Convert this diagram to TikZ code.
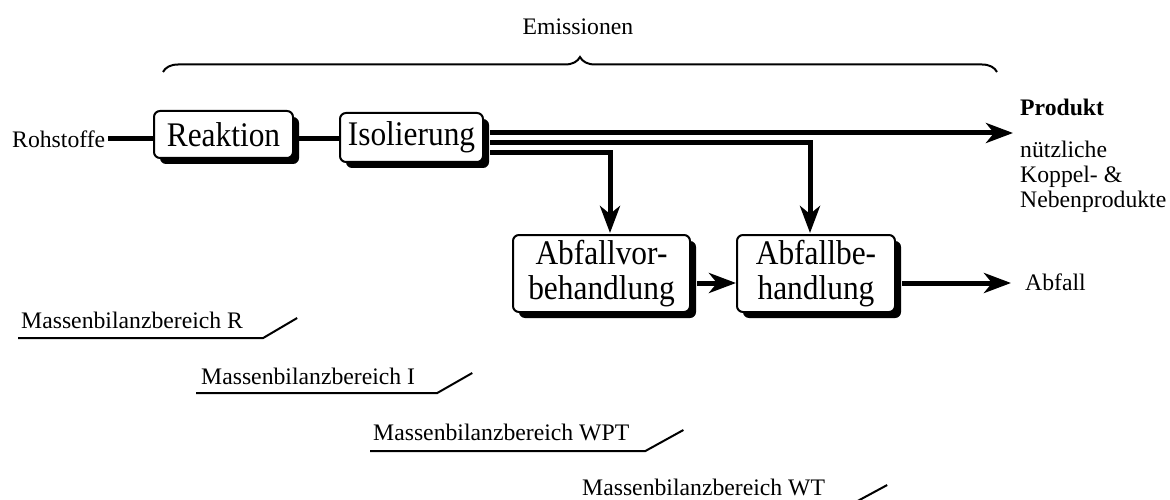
\documentclass[tikz,border=0pt]{standalone}
\usepackage{fontspec}
\setmainfont{Liberation Serif}
\newfontfamily\boxfont[FakeStretch=0.91]{Liberation Serif}
\usetikzlibrary{arrows.meta,shadows,decorations.pathreplacing}
\begin{document}
\begin{tikzpicture}[x=1pt,y=-1pt,
  txt/.style={inner sep=0pt, font=\fontsize{23.7}{25}\selectfont},
  proc/.style={draw=black, line width=2pt, rounded corners=6pt, fill=white,
    inner sep=0pt, align=center, font=\boxfont\fontsize{34.5}{35}\selectfont,
    drop shadow={shadow xshift=6pt, shadow yshift=-6pt, opacity=1, fill=black}},
  conn/.style={line width=5pt},
  arr/.style={line width=5pt, line join=miter, -{Stealth[length=27pt,width=20pt,inset=8pt]}},
  uline/.style={line width=2pt}]
\useasboundingbox (0,0) rectangle (1170,500);
\clip (0,0) rectangle (1170,500);

% title and brace
\node[txt] (emi) at (578,27) {Emissionen};
\coordinate (bl) at (163,72);
\coordinate (br) at (997,72);
\draw[line width=2pt, decorate, decoration={brace, amplitude=15pt}] (bl) -- (br);

% process boxes
\node[proc, minimum width=139pt, minimum height=47pt] (reak) at (223.5,134.5) {Reaktion};
\node[proc, minimum width=143pt, minimum height=49pt] (iso) at (411.5,137.5) {Isolierung};
\node[proc, minimum width=177pt, minimum height=77pt] (avb) at (601.5,273.5) {Abfallvor-\\behandlung};
\node[proc, minimum width=158pt, minimum height=77pt] (abb) at (816,273.5) {Abfallbe-\\handlung};

% texts
\node[txt, anchor=west] (roh) at (12,139) {Rohstoffe};
\node[txt, anchor=west, font=\fontsize{23.7}{25}\selectfont\bfseries] (prod) at (1020,107) {Produkt};
\node[txt, anchor=north west, align=left] (neb) at (1020,141) {nützliche\\Koppel- \&\\Nebenprodukte};
\node[txt, anchor=west] (abf) at (1025,282) {Abfall};
\coordinate (pend) at (1013,133);
\coordinate (aend) at (1011,283);

% connectors
\draw[conn] ([xshift=3pt]roh.east) -- (reak.west |- roh);
\draw[conn] ([xshift=5pt]reak.east |- roh) -- (iso.west |- roh);
\draw[arr] ([xshift=6pt,yshift=4.5pt]iso.east) -- (pend);
\draw[arr, shorten >=1pt] ([xshift=6pt,yshift=-5.5pt]iso.east) -| ([xshift=-6pt]abb.north);
\draw[arr, shorten >=1pt] ([xshift=6pt,yshift=-15.5pt]iso.east) -| ([xshift=8.5pt]avb.north);
\draw[arr] ([xshift=6pt,yshift=-9.5pt]avb.east) -- ([yshift=-9.5pt]abb.west);
\draw[arr] ([xshift=6pt,yshift=-9.5pt]abb.east) -- (aend);

% mass balance labels
\node[txt, anchor=base west] (mR) at (21,328) {Massenbilanzbereich R};
\draw[uline] ([xshift=-3pt,yshift=-10pt]mR.base west) -- ([xshift=20pt,yshift=-10pt]mR.base east) -- ++(34,-20);
\node[txt, anchor=base west] (mI) at (201,384) {Massenbilanzbereich I};
\draw[uline] ([xshift=-5pt,yshift=-9pt]mI.base west) -- ([xshift=22pt,yshift=-9pt]mI.base east) -- ++(35,-20);
\node[txt, anchor=base west] (mW) at (373,440) {Massenbilanzbereich WPT};
\draw[uline] ([xshift=-3pt,yshift=-11pt]mW.base west) -- ([xshift=16pt,yshift=-11pt]mW.base east) -- ++(38,-21);
\node[txt, anchor=base west] (mT) at (582,495) {Massenbilanzbereich WT};
\draw[uline] ([xshift=-4pt,yshift=-10pt]mT.base west) -- ([xshift=25pt,yshift=-10pt]mT.base east) -- ++(37,-20);
\end{tikzpicture}
\end{document}
